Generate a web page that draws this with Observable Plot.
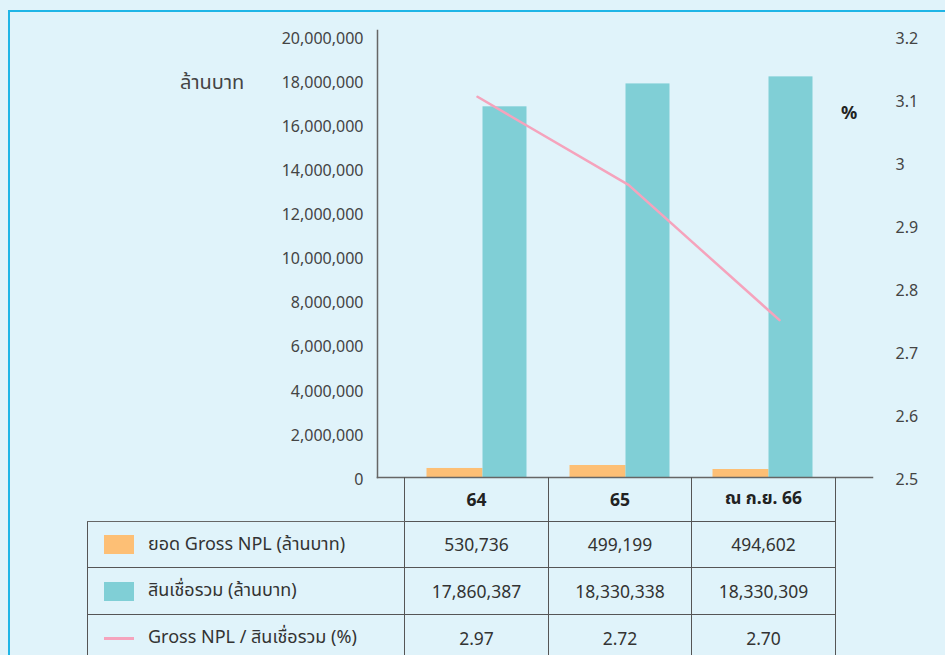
<!DOCTYPE html>
<html>
<head>
<meta charset="utf-8">
<script src="https://cdn.jsdelivr.net/npm/d3@7"></script>
<script src="https://cdn.jsdelivr.net/npm/@observablehq/plot@0.6"></script>
<style>
  html, body { margin: 0; padding: 0; background: #e0f3fa; }
  #wrap { position: relative; width: 945px; height: 655px; overflow: hidden; background: #e0f3fa;
          font-family: "Noto Sans", "Noto Sans Thai", "Open Sans", sans-serif; color: #333; }
  #border { position: absolute; left: 8px; top: 10px; right: -10px; bottom: -10px;
            border-left: 2px solid #1fb5e6; border-top: 2px solid #1fb5e6; }
  .layer { position: absolute; left: 0; top: 0; }
  .lbl { position: absolute; white-space: nowrap; }
  table { position: absolute; left: 87px; top: 477px; border-collapse: collapse; table-layout: fixed; }
  td { border: 1px solid #555; text-align: center; font-size: 17.5px; color: #333; padding: 0; }
  td.head { font-weight: bold; color: #222; border-top: none; }
  td.blank { border: none; border-bottom: 1px solid #666; }
  td.leg { text-align: left; font-size: 18px; }
  .sw { display: inline-block; width: 30px; height: 19px; vertical-align: middle; margin: 0 14px 0 16px; }
  .swl { display: inline-block; width: 30px; height: 3px; vertical-align: middle; margin: 0 14px 0 16px; }
</style>
</head>
<body>
<div id="wrap">
  <div id="border"></div>
</div>
<script>
// ---- data ----
const categories = ["64", "65", "ณ ก.ย. 66"];
const nplBars = [410000, 545000, 363000];
const loanBars = [16830000, 17870000, 18190000];
const ratioLine = [3.105, 2.965, 2.75];
const leftTicks = [0, 2000000, 4000000, 6000000, 8000000, 10000000, 12000000, 14000000, 16000000, 18000000, 20000000];
const rightTicks = [2.5, 2.6, 2.7, 2.8, 2.9, 3, 3.1, 3.2];
const seriesNames = ["ยอด Gross NPL (ล้านบาท)", "สินเชื่อรวม (ล้านบาท)", "Gross NPL / สินเชื่อรวม (%)"];
const nplText = ["530,736", "499,199", "494,602"];
const loanText = ["17,860,387", "18,330,338", "18,330,309"];
const ratioText = ["2.97", "2.72", "2.70"];
const leftUnit = "ล้านบาท";
const rightUnit = "%";

const colors = { npl: "#fdbf75", loan: "#80cfd6", ratio: "#f5a3bc" };

const data = categories.map((c, i) => ({ cat: c, npl: nplBars[i], loan: loanBars[i], ratio: ratioLine[i] }));

const wrap = document.getElementById("wrap");
const font = '"Noto Sans", "Noto Sans Thai", sans-serif';

const common = {
  width: 945, height: 490,
  marginLeft: 377, marginRight: 73, marginTop: 30, marginBottom: 13,
  style: { background: "transparent", fontFamily: font, fontSize: "16px", color: "#444", overflow: "visible" }
};

const barsPlot = Plot.plot({
  ...common,
  x: { type: "band", domain: categories, range: [404.5, 833.5], padding: 0, axis: null },
  y: { domain: [0, 20000000], range: [477, 36.5], axis: null },
  marks: [
    Plot.barY(data, { x: "cat", y: "npl", fill: colors.npl, insetLeft: 21.5, insetRight: 65.5 }),
    Plot.barY(data, { x: "cat", y: "loan", fill: colors.loan, insetLeft: 77.5, insetRight: 21.5 }),
    Plot.axisY({ anchor: "left", label: null, ticks: leftTicks, tickSize: 0, tickPadding: 14, tickFormat: d3.format(","), dy: 2, fill: "#444", fontSize: 16 }),
    Plot.frame({ anchor: "left", stroke: "#666", strokeWidth: 1.5 }),
    Plot.frame({ anchor: "bottom", stroke: "#666", strokeWidth: 1.5 })
  ]
});
barsPlot.classList.add("layer");
wrap.appendChild(barsPlot);

const linePlot = Plot.plot({
  ...common,
  x: { type: "point", domain: categories, range: [476, 779], padding: 0, axis: null },
  y: { domain: [2.5, 3.2], range: [477, 36.5], axis: null },
  marks: [
    Plot.lineY(data, { x: "cat", y: "ratio", stroke: colors.ratio, strokeWidth: 2.5 }),
    Plot.axisY({ anchor: "right", label: null, ticks: rightTicks, tickSize: 0, tickPadding: 23, textAnchor: "start", tickFormat: d => String(d), dy: 2, fill: "#444", fontSize: 16 })
  ]
});
linePlot.classList.add("layer");
wrap.appendChild(linePlot);

// unit labels
const u1 = document.createElement("div");
u1.className = "lbl"; u1.textContent = leftUnit;
Object.assign(u1.style, { left: "180px", top: "68px", fontSize: "20px", color: "#444" });
wrap.appendChild(u1);
const u2 = document.createElement("div");
u2.className = "lbl"; u2.textContent = rightUnit;
Object.assign(u2.style, { left: "841px", top: "100px", fontSize: "18px", fontWeight: "bold", color: "#222" });
wrap.appendChild(u2);

// data table
const table = document.createElement("table");
const colW = [317, 144, 143, 144];
const cg = document.createElement("colgroup");
colW.forEach(w => { const c = document.createElement("col"); c.style.width = w + "px"; cg.appendChild(c); });
table.appendChild(cg);
table.style.width = d3.sum(colW) + "px";

const hr = document.createElement("tr"); hr.style.height = "44px";
const blank = document.createElement("td"); blank.className = "blank"; hr.appendChild(blank);
categories.forEach(c => { const td = document.createElement("td"); td.className = "head"; td.textContent = c; hr.appendChild(td); });
table.appendChild(hr);

const rows = [
  { name: seriesNames[0], vals: nplText, sw: "box", color: colors.npl, h: 46 },
  { name: seriesNames[1], vals: loanText, sw: "box", color: colors.loan, h: 47 },
  { name: seriesNames[2], vals: ratioText, sw: "line", color: colors.ratio, h: 47 }
];
rows.forEach(r => {
  const tr = document.createElement("tr"); tr.style.height = r.h + "px";
  const td0 = document.createElement("td"); td0.className = "leg";
  const s = document.createElement("span"); s.className = r.sw === "box" ? "sw" : "swl"; s.style.background = r.color;
  td0.appendChild(s);
  td0.appendChild(document.createTextNode(r.name));
  tr.appendChild(td0);
  r.vals.forEach(v => { const td = document.createElement("td"); td.textContent = v; tr.appendChild(td); });
  table.appendChild(tr);
});
wrap.appendChild(table);
</script>
</body>
</html>
